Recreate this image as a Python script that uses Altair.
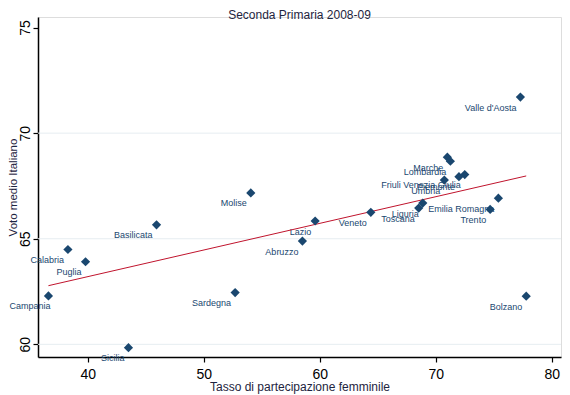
import altair as alt
import pandas as pd

regions = ["Valle d'Aosta", "Bolzano", "Campania", "Calabria", "Puglia",
           "Basilicata", "Sicilia", "Sardegna", "Molise", "Lazio", "Abruzzo",
           "Veneto", "Marche", "Lombardia", "Friuli Venezia Giulia", "Piemonte",
           "Umbria", "Liguria", "Toscana", "Emilia Romagna", "Trento"]
tasso = [77.3, 77.8, 36.6, 38.28, 39.8,
         45.92, 43.5, 52.7, 54.05, 59.6, 58.5,
         64.4, 71.0, 71.26, 72.5, 72.0,
         70.74, 68.88, 68.53, 75.4, 74.69]
voto = [71.71, 62.28, 62.29, 64.49, 63.91,
        65.66, 59.84, 62.45, 67.17, 65.84, 64.89,
        66.25, 68.86, 68.67, 68.04, 67.94,
        67.78, 66.69, 66.45, 66.92, 66.39]
x_ticks = [40, 50, 60, 70, 80]
y_ticks = [60, 65, 70, 75]
grid_vals = [60, 65, 70]

df = pd.DataFrame({"regione": regions, "tasso": tasso, "voto": voto})
grid_df = pd.DataFrame({"voto": grid_vals})

FONT = "Liberation Sans"
NAVY = "#1a476f"
TXT = "#1e2440"

xs = alt.Scale(domain=[35.7, 80.8], nice=False, zero=False)
ys = alt.Scale(domain=[59.4, 75.5], nice=False, zero=False)

x_axis = alt.Axis(values=x_ticks, title="Tasso di partecipazione femminile",
                  grid=False, labelFontSize=14, labelFont=FONT,
                  labelColor="black", titleFont=FONT, titleFontSize=12,
                  titleFontWeight="normal", titleColor=TXT,
                  domainColor="black", domainWidth=1.5, tickColor="black",
                  tickSize=5, tickWidth=1.2, labelPadding=5,
                  titleBaseline="top", titleY=24, labelFlush=False)
y_axis = alt.Axis(values=y_ticks, title="Voto medio Italiano",
                  grid=False, labelFontSize=14, labelFont=FONT,
                  labelColor="black", labelAngle=270, labelAlign="center",
                  labelBaseline="bottom",
                  titleFont=FONT, titleFontSize=11.5,
                  titleFontWeight="normal", titleColor=TXT,
                  titleBaseline="top", titleX=-31,
                  domainColor="black", domainWidth=1.5, tickColor="black",
                  tickSize=5, tickWidth=1.2, labelPadding=1, labelFlush=False)

grid = alt.Chart(grid_df).mark_rule(color="#e6edf1", strokeWidth=1).encode(
    y=alt.Y("voto:Q", scale=ys, axis=y_axis)
)

points = alt.Chart(df).mark_point(shape="diamond", filled=True, size=85,
                                  color=NAVY, opacity=1).encode(
    x=alt.X("tasso:Q", scale=xs, axis=x_axis),
    y=alt.Y("voto:Q", scale=ys, axis=y_axis))

labels = alt.Chart(df).transform_filter(
    alt.datum.regione != "Campania"
).mark_text(align="right", baseline="middle", dx=-4, dy=10.5,
            fontSize=9, font=FONT, color=NAVY).encode(
    x=alt.X("tasso:Q", scale=xs), y=alt.Y("voto:Q", scale=ys), text="regione:N")

label_edge = alt.Chart(df).transform_filter(
    alt.datum.regione == "Campania"
).mark_text(align="right", baseline="middle", dx=2, dy=10.5,
            fontSize=9, font=FONT, color=NAVY).encode(
    x=alt.X("tasso:Q", scale=xs), y=alt.Y("voto:Q", scale=ys), text="regione:N")

fit = alt.Chart(df).transform_regression("tasso", "voto").mark_line(
    color="#c0142d", strokeWidth=1).encode(
    x=alt.X("tasso:Q", scale=xs), y=alt.Y("voto:Q", scale=ys))

chart = alt.layer(grid, labels, label_edge, fit, points).properties(
    width=523, height=340,
    title=alt.TitleParams("Seconda Primaria 2008-09", font=FONT, fontSize=12,
                          fontWeight="normal", color=TXT, anchor="middle",
                          offset=-5),
    autosize=alt.AutoSizeParams(type="none"),
    padding={"left": 30, "top": 9, "right": 1, "bottom": 38},
).configure_view(strokeWidth=0).configure(background="white")

chart.save("out.html", embed_options={"renderer": "svg", "actions": False})
